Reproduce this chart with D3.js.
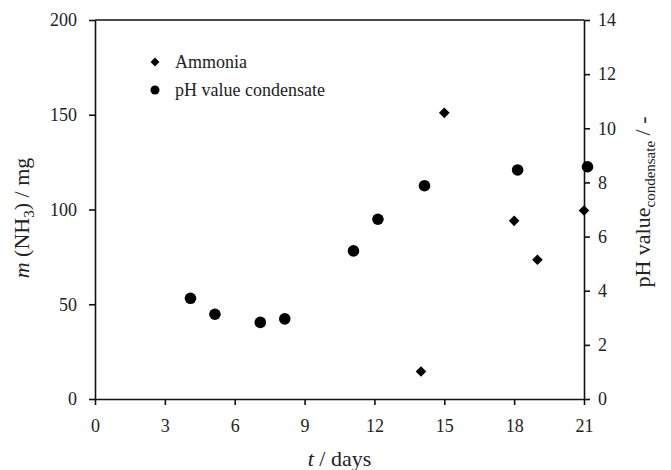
<!DOCTYPE html>
<html>
<head>
<meta charset="utf-8">
<script src="https://cdn.jsdelivr.net/npm/d3@7"></script>
<style>
  body { margin: 0; background: #fff; }
  svg { font-family: "Liberation Serif", "DejaVu Serif", serif; }
  .axis path, .axis line { stroke: #111; stroke-width: 1.6px; }
  .axis text { font-size: 18px; fill: #222; font-family: "Liberation Serif", serif; }
</style>
</head>
<body>
<script>
// ammonia mass (left axis)
var ammoniaDays = [14, 15, 18, 19, 21];
var ammoniaMass = [14.5, 151, 94, 73.5, 99.5];

// pH of condensate (right axis)
var phDays = [4.1, 5.15, 7.1, 8.15, 11.1, 12.15, 14.15, 18.15, 21.15];
var phValues = [3.72, 3.13, 2.83, 2.96, 5.47, 6.64, 7.88, 8.46, 8.58];

var xTicks = [0, 3, 6, 9, 12, 15, 18, 21];
var leftTicks = [0, 50, 100, 150, 200];
var rightTicks = [0, 2, 4, 6, 8, 10, 12, 14];

var margin = { top: 20, right: 87, bottom: 71, left: 95 },
    width = 671 - margin.left - margin.right,
    height = 470 - margin.top - margin.bottom;

var svg = d3.select("body")
    .append("svg")
    .attr("width", 671)
    .attr("height", 470);

var g = svg.append("g")
    .attr("transform", "translate(" + margin.left + "," + margin.top + ")");

var x = d3.scaleLinear().domain([0, 21]).range([0, width]);
var yL = d3.scaleLinear().domain([0, 200]).range([height, 0]);
var yR = d3.scaleLinear().domain([0, 14]).range([height, 0]);

// top frame line
g.append("line")
    .attr("x1", 0).attr("x2", width)
    .attr("y1", 0).attr("y2", 0)
    .attr("stroke", "#111")
    .attr("stroke-width", 1.6);

g.append("g")
    .attr("class", "axis")
    .attr("transform", "translate(0," + height + ")")
    .call(d3.axisBottom(x).tickValues(xTicks).tickSize(6).tickSizeOuter(0).tickPadding(14));

g.append("g")
    .attr("class", "axis")
    .call(d3.axisLeft(yL).tickValues(leftTicks).tickSize(6).tickSizeOuter(0).tickPadding(12));

g.append("g")
    .attr("class", "axis")
    .attr("transform", "translate(" + width + ",0)")
    .call(d3.axisRight(yR).tickValues(rightTicks).tickSize(6).tickSizeOuter(0).tickPadding(8));

// points
var ammonia = ammoniaDays.map(function (d, i) { return { day: d, v: ammoniaMass[i] }; });
var ph = phDays.map(function (d, i) { return { day: d, v: phValues[i] }; });

g.selectAll(".ph")
    .data(ph)
    .enter().append("circle")
    .attr("class", "ph")
    .attr("cx", function (d) { return x(d.day); })
    .attr("cy", function (d) { return yR(d.v); })
    .attr("r", 5.8)
    .attr("fill", "#000");

var diamond = d3.symbol().type(d3.symbolDiamond2).size(72);
g.selectAll(".nh3")
    .data(ammonia)
    .enter().append("path")
    .attr("class", "nh3")
    .attr("d", diamond)
    .attr("transform", function (d) {
        return "translate(" + x(d.day) + "," + yL(d.v) + ")";
    })
    .attr("fill", "#000");

// legend
var legend = svg.append("g").attr("transform", "translate(155,0)");
legend.append("path")
    .attr("d", d3.symbol().type(d3.symbolDiamond2).size(50))
    .attr("transform", "translate(0,62)");
legend.append("circle").attr("cx", 0).attr("cy", 90).attr("r", 4.5);
legend.append("text").attr("x", 20).attr("y", 62).attr("dy", "0.35em")
    .style("font-size", "18px").attr("fill", "#222").text("Ammonia");
legend.append("text").attr("x", 20).attr("y", 90).attr("dy", "0.35em")
    .style("font-size", "18px").attr("fill", "#222").text("pH value condensate");

// axis titles
var xt = svg.append("text")
    .attr("x", margin.left + width / 2)
    .attr("y", 466)
    .attr("text-anchor", "middle")
    .style("font-size", "22px")
    .attr("fill", "#222");
xt.append("tspan").style("font-style", "italic").text("t");
xt.append("tspan").text(" / days");

var lt = svg.append("text")
    .attr("transform", "translate(29,218) rotate(-90)")
    .attr("text-anchor", "middle")
    .style("font-size", "22px")
    .attr("fill", "#222");
lt.append("tspan").style("font-style", "italic").text("m");
lt.append("tspan").text(" (NH");
lt.append("tspan").attr("dy", 5).style("font-size", "15px").text("3");
lt.append("tspan").attr("dy", -5).text(") / mg");

var rt = svg.append("text")
    .attr("transform", "translate(650,202) rotate(-90)")
    .attr("text-anchor", "middle")
    .style("font-size", "22px")
    .attr("fill", "#222");
rt.append("tspan").text("pH value");
rt.append("tspan").attr("dy", 5).style("font-size", "15px").text("condensate");
rt.append("tspan").attr("dy", -5).text(" / -");
</script>
</body>
</html>
